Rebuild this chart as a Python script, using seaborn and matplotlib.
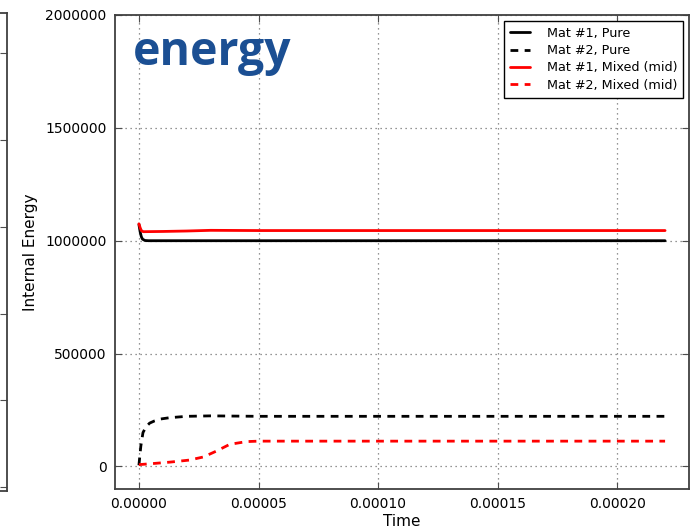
import numpy as np
import pandas as pd
import matplotlib
matplotlib.use("Agg")
import matplotlib.pyplot as plt
import seaborn as sns

# Time histories of internal energy per material
t_m1_pure = [0.0, 0.5e-6, 1.0e-6, 1.5e-6, 2.5e-6, 4e-6, 1e-5, 5e-5, 1e-4, 1.5e-4, 2.2e-4]
e_m1_pure = [1072000, 1040000, 1018000, 1007000, 1001000, 1000000, 1000000, 1000000, 1000000, 1000000, 1000000]

t_m2_pure = [0.0, 0.8e-6, 1.7e-6, 3e-6, 4.5e-6, 6.6e-6, 9e-6, 1.29e-5, 2e-5, 3e-5, 5e-5, 1e-4, 1.5e-4, 2.2e-4]
e_m2_pure = [5000, 90000, 150000, 176000, 192000, 202000, 210000, 216000, 222000, 224000, 222000, 222000, 222000, 222000]

t_m1_mix = [0.0, 0.5e-6, 1.0e-6, 1.8e-6, 1e-5, 2e-5, 3e-5, 5e-5, 1e-4, 1.5e-4, 2.2e-4]
e_m1_mix = [1075000, 1058000, 1045000, 1040000, 1041000, 1043000, 1046000, 1045000, 1045000, 1045000, 1045000]

t_m2_mix = [0.0, 5e-6, 1.29e-5, 2.1e-5, 2.7e-5, 3.24e-5, 3.8e-5, 4.5e-5, 5e-5, 1e-4, 1.5e-4, 2.2e-4]
e_m2_mix = [8000, 12000, 19000, 28000, 42000, 68000, 98000, 110000, 112000, 112000, 112000, 112000]

labels = ["Mat #1, Pure", "Mat #2, Pure", "Mat #1, Mixed (mid)", "Mat #2, Mixed (mid)"]
colors = ["black", "black", "red", "red"]
solid = "-"
dashed = (0, (2.8, 2.3))
styles = [solid, dashed, solid, dashed]

xticks = [0.0, 0.00005, 0.00010, 0.00015, 0.00020]
yticks = [0, 500000, 1000000, 1500000, 2000000]

sns.set_theme(style="white")
plt.rcParams["font.family"] = ["DejaVu Sans"]
plt.rcParams["text.color"] = "black"
plt.rcParams["axes.labelcolor"] = "black"

fig = plt.figure(figsize=(6.92, 5.29), dpi=100)
ax = fig.add_axes([115 / 692, 40 / 529, 574 / 692, 474 / 529])

series = [(t_m1_pure, e_m1_pure), (t_m2_pure, e_m2_pure),
          (t_m1_mix, e_m1_mix), (t_m2_mix, e_m2_mix)]
for (t, e), lab, col, ls in zip(series, labels, colors, styles):
    df = pd.DataFrame({"Time": t, "Internal Energy": e})
    sns.lineplot(data=df, x="Time", y="Internal Energy", ax=ax, color=col,
                 linestyle=ls, linewidth=2.0, label=lab, estimator=None, sort=False)

ax.set_xlim(-1e-5, 2.3e-4)
ax.set_ylim(-100000, 2000000)
ax.set_xticks(xticks)
ax.set_xticklabels([f"{v:.5f}" for v in xticks])
ax.set_yticks(yticks)
ax.set_yticklabels([f"{v:d}" for v in yticks])
ax.tick_params(axis="both", which="major", direction="in", length=5, width=0.8,
               color="0.3", labelsize=10, labelcolor="black", pad=6,
               top=True, right=True, bottom=True, left=True)
ax.grid(True, linestyle=(0, (1, 3)), color="0.45", linewidth=0.9)
for sp in ax.spines.values():
    sp.set_color("0.25")
    sp.set_linewidth(1.3)
ax.set_xlabel("Time", fontsize=11, labelpad=2)
ax.set_ylabel("Internal Energy", fontsize=11, labelpad=5)

leg = ax.legend(loc="upper right", fontsize=9.2, frameon=True, fancybox=False,
                edgecolor="black", framealpha=1.0, handlelength=1.6,
                borderaxespad=0.45, borderpad=0.45, labelspacing=0.35,
                handletextpad=1.3)
leg.get_frame().set_linewidth(1.0)
for txt in leg.get_texts():
    txt.set_color("black")

fig.text(133 / 692, (529 - 65) / 529, "energy", fontsize=33.4, fontweight="bold",
         family=["Open Sans", "DejaVu Sans"], color="#1b4f93",
         ha="left", va="baseline")

# Neighbouring panel edge at the far left
side = fig.add_axes([-0.1, 38 / 529, 0.1 + 6.5 / 692, 478 / 529])
side.set_xlim(0, 1)
side.set_ylim(-0.046, 5.467)
side.set_xticks([])
side.set_yticks([0, 1, 2, 3, 4, 5])
side.yaxis.tick_right()
side.tick_params(axis="y", direction="in", length=5, width=0.8, color="0.3",
                 labelright=False, labelleft=False)
for sp in side.spines.values():
    sp.set_color("0.25")
    sp.set_linewidth(1.3)

fig.savefig("out.png", dpi=100)
